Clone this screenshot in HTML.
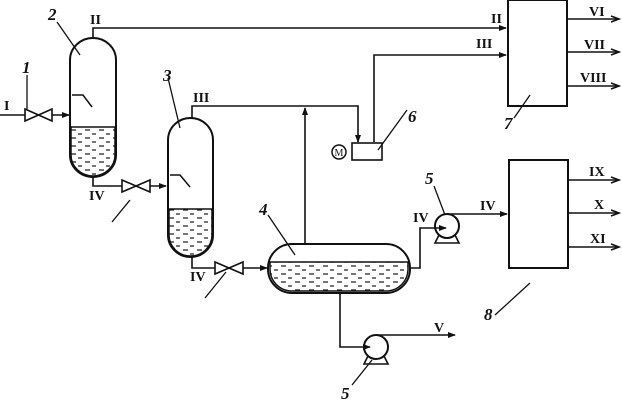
<!DOCTYPE html>
<html><head><meta charset="utf-8"><style>
html,body{margin:0;padding:0;background:#fff}
svg{display:block}
text{font-family:"Liberation Serif",serif;font-weight:bold;fill:#111}
.n{font-style:italic;font-size:17px}
.r{font-size:14px}
</style></head><body>
<svg width="622" height="404" viewBox="0 0 622 404" xmlns="http://www.w3.org/2000/svg">
<defs>
<marker id="a" markerWidth="8" markerHeight="6" refX="7" refY="3" orient="auto" markerUnits="userSpaceOnUse"><path d="M0,0L8,3L0,6z" fill="#111"/></marker>
<pattern id="liq" width="14" height="8" patternUnits="userSpaceOnUse"><path d="M1,2h5M8,6h4" stroke="#222" stroke-width="1.2"/></pattern>
</defs>
<g stroke="#111" stroke-width="2" fill="none">
<path d="M70,60 A23,22 0 0 1 116,60 V155 A23,22 0 0 1 70,155 Z" fill="#fff"/>
<path d="M71,127 H115 V155 A22,21 0 0 1 71,155 Z" fill="url(#liq)" stroke-width="1.5"/>
<path d="M72,95 H83 L92,107" stroke-width="1.5"/>
<path d="M168,140 A22.5,22 0 0 1 213,140 V235 A22.5,22 0 0 1 168,235 Z" fill="#fff"/>
<path d="M169,209 H212 V235 A21.5,21 0 0 1 169,235 Z" fill="url(#liq)" stroke-width="1.5"/>
<path d="M170,175 H180 L190,187" stroke-width="1.5"/>
<rect x="268" y="244" width="142" height="49" rx="24" ry="24" fill="#fff"/>
<path d="M270,262 H408 V270 A22,22 0 0 1 388,291 H290 A22,22 0 0 1 270,270 Z" fill="url(#liq)" stroke-width="1.5"/>
<rect x="508" y="0" width="59" height="106"/>
<rect x="509" y="160" width="59" height="108"/>
<rect x="352" y="143" width="30" height="17" stroke-width="1.6"/>
<circle cx="339" cy="152" r="7" stroke-width="1.5"/>
<path d="M439,235 L435,243 H459 L455,235" stroke-width="1.6" fill="#fff"/>
<circle cx="447" cy="226" r="12" fill="#fff"/>
<path d="M368,356 L364,364 H388 L384,356" stroke-width="1.6" fill="#fff"/>
<circle cx="376" cy="347" r="12" fill="#fff"/>
<path d="M25,109 V121 L52,109 V121 Z" stroke-width="1.6"/>
<path d="M122,180 V192 L150,180 V192 Z" stroke-width="1.6"/>
<path d="M215,262 V274 L243,262 V274 Z" stroke-width="1.6"/>
<path d="M0,115 H25 M52,115 H69" marker-end="url(#a)" stroke-width="1.6"/>
<path d="M93,38 V28 H506" marker-end="url(#a)" stroke-width="1.6"/>
<path d="M93,177 V186 H122 M150,186 H166" marker-end="url(#a)" stroke-width="1.6"/>
<path d="M192,118 V106 H358 V142" marker-end="url(#a)" stroke-width="1.6"/>
<path d="M305,243 V108" marker-end="url(#a)" stroke-width="1.6"/>
<path d="M374,142 V55 H506" marker-end="url(#a)" stroke-width="1.6"/>
<path d="M192,257 V268 H215 M243,268 H267" marker-end="url(#a)" stroke-width="1.6"/>
<path d="M410,268 H420 V228 H446" marker-end="url(#a)" stroke-width="1.6"/>
<path d="M447,214 H507" marker-end="url(#a)" stroke-width="1.6"/>
<path d="M340,293 V347 H370" marker-end="url(#a)" stroke-width="1.6"/>
<path d="M376,335 H455" marker-end="url(#a)" stroke-width="1.6"/>
<path d="M567,19 H619 M567,52 H619 M567,86 H619 M568,180 H619 M568,213 H619 M568,247 H619" stroke-width="1.6"/>
<path d="M611,16 L619,19 L611,22 M611,49 L619,52 L611,55 M611,83 L619,86 L611,89 M611,177 L619,180 L611,183 M611,210 L619,213 L611,216 M611,244 L619,247 L611,250" stroke-width="1.6"/>
<path d="M27,75 V109 M57,22 L80,55 M168,78 L180,128 M130,200 L112,222 M226,272 L205,298 M268,215 L295,255 M434,186 L445,215 M407,110 L378,150 M514,118 L530,95 M495,315 L530,283 M352,385 L372,360" stroke-width="1.3"/>
</g>
<text x="339" y="156" font-size="10" text-anchor="middle" style="font-weight:normal">M</text>
<text class="n" x="22" y="73">1</text>
<text class="n" x="48" y="20">2</text>
<text class="n" x="163" y="81">3</text>
<text class="n" x="259" y="215">4</text>
<text class="n" x="425" y="184">5</text>
<text class="n" x="341" y="399">5</text>
<text class="n" x="408" y="122">6</text>
<text class="n" x="504" y="129">7</text>
<text class="n" x="484" y="320">8</text>
<text class="r" x="4" y="110">I</text>
<text class="r" x="90" y="24">II</text>
<text class="r" x="491" y="23">II</text>
<text class="r" x="476" y="48">III</text>
<text class="r" x="193" y="102">III</text>
<text class="r" x="89" y="200">IV</text>
<text class="r" x="190" y="281">IV</text>
<text class="r" x="413" y="222">IV</text>
<text class="r" x="480" y="210">IV</text>
<text class="r" x="434" y="332">V</text>
<text class="r" x="589" y="16">VI</text>
<text class="r" x="584" y="49">VII</text>
<text class="r" x="580" y="82">VIII</text>
<text class="r" x="589" y="176">IX</text>
<text class="r" x="594" y="209">X</text>
<text class="r" x="590" y="243">XI</text>
</svg>
</body></html>
